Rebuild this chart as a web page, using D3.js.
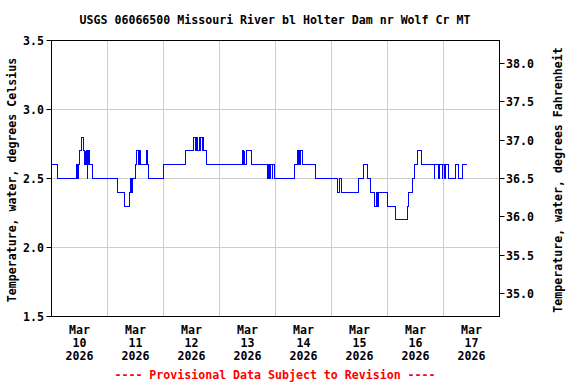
<!DOCTYPE html>
<html>
<head>
<meta charset="utf-8">
<script src="https://cdn.jsdelivr.net/npm/d3@7"></script>
<style>
  body { margin: 0; background: #fff; }
  text { font-family: "DejaVu Sans Mono", monospace; font-weight: bold; font-size: 11.6px; }
</style>
</head>
<body>
<script>
// hours since Mar 10 2026 00:00, value in deg C (step changes of the 15-min record)
var obsHours = [0, 2.75, 10.75, 11.25, 11.75, 12, 13, 13.75, 14.25, 14.5, 14.75, 15, 15.25, 15.5, 15.75, 16, 16.25,
  17.75, 28.25, 31.25, 33.25, 34, 34.25, 34.5, 36, 36.5, 37.25, 37.75, 38.25, 40.5, 41.25, 41.75,
  48, 57.5, 61, 61.75, 62.25, 62.5, 63.25, 63.75, 64, 64.5, 64.75, 65, 66.5,
  81.75, 82.25, 82.5, 82.75, 83.5, 85.75, 92.75, 93, 93.5, 93.75, 94.5, 94.75, 95.75,
  104.25, 105.5, 106, 106.25, 106.5, 106.75, 107.75, 113, 122.75, 123.5, 124.25,
  131.75, 133.75, 135.5, 136.75, 138.5, 139.25, 139.5, 140.25, 144, 147.5, 152.5, 153, 154.5,
  155.5, 157, 158.5, 164, 164.25, 166, 166.25, 167.5, 167.75, 168.5, 168.75, 170,
  173.25, 174.5, 176.25, 178];
var tempC = [2.6, 2.5, 2.6, 2.5, 2.6, 2.7, 2.8, 2.7, 2.6, 2.7, 2.6, 2.7, 2.5, 2.7, 2.6, 2.7, 2.6,
  2.5, 2.4, 2.3, 2.4, 2.5, 2.4, 2.5, 2.6, 2.7, 2.6, 2.7, 2.6, 2.7, 2.6, 2.5,
  2.6, 2.7, 2.8, 2.7, 2.8, 2.7, 2.8, 2.7, 2.8, 2.7, 2.8, 2.7, 2.6,
  2.7, 2.6, 2.7, 2.6, 2.7, 2.6, 2.5, 2.6, 2.5, 2.6, 2.5, 2.6, 2.5,
  2.6, 2.7, 2.6, 2.7, 2.6, 2.7, 2.6, 2.5, 2.4, 2.5, 2.4,
  2.5, 2.6, 2.5, 2.4, 2.3, 2.4, 2.3, 2.4, 2.3, 2.2, 2.3, 2.4, 2.5,
  2.6, 2.7, 2.6, 2.5, 2.6, 2.5, 2.6, 2.5, 2.6, 2.5, 2.6, 2.5,
  2.6, 2.5, 2.6, 2.6];
var dayLabels = ["10", "11", "12", "13", "14", "15", "16", "17"];
var cTicks = [1.5, 2.0, 2.5, 3.0, 3.5];
var fTicks = [35.0, 35.5, 36.0, 36.5, 37.0, 37.5, 38.0];

var title = "USGS 06066500 Missouri River bl Holter Dam nr Wolf Cr MT";
var width = 576, height = 384;
var pLeft = 51.5, pRight = 499.5, pTop = 40.5, pBottom = 316.5;

var start = new Date(2026, 2, 10);
var data = obsHours.map((h, i) => ({ t: new Date(start.getTime() + h * 3600e3), v: tempC[i] }));

var svg = d3.select("body").append("svg").attr("width", width).attr("height", height);

var x = d3.scaleTime().domain([start, new Date(2026, 2, 18)]).range([pLeft, pRight]);
var y = d3.scaleLinear().domain([1.5, 3.5]).range([pBottom, pTop]);
var yF = d3.scaleLinear().domain([1.5 * 1.8 + 32, 3.5 * 1.8 + 32]).range([pBottom, pTop]);

svg.append("text").attr("x", 275).attr("y", 24).attr("text-anchor", "middle").text(title);

// grid
var days = d3.timeDay.range(new Date(2026, 2, 11), new Date(2026, 2, 18));
svg.append("g").selectAll("line").data(days).enter().append("line")
  .attr("x1", d => Math.floor(x(d)) + 0.5).attr("x2", d => Math.floor(x(d)) + 0.5)
  .attr("y1", pTop).attr("y2", pBottom).attr("stroke", "#cccccc");
svg.append("g").selectAll("line").data([2.0, 2.5, 3.0]).enter().append("line")
  .attr("x1", pLeft).attr("x2", pRight)
  .attr("y1", d => Math.floor(y(d)) + 0.5).attr("y2", d => Math.floor(y(d)) + 0.5).attr("stroke", "#cccccc");

// series
var line = d3.line().x(d => Math.floor(x(d.t)) + 0.5).y(d => Math.floor(y(d.v)) + 0.5).curve(d3.curveStepAfter);
svg.append("path").datum(data).attr("d", line).attr("fill", "none")
  .attr("stroke", "#0000ff").attr("stroke-width", 1).attr("shape-rendering", "crispEdges");

// frame
svg.append("rect").attr("x", pLeft).attr("y", pTop).attr("width", pRight - pLeft).attr("height", pBottom - pTop)
  .attr("fill", "none").attr("stroke", "#000");

// left axis
var gl = svg.append("g");
cTicks.forEach(function (c) {
  var yy = Math.floor(y(c)) + 0.5;
  gl.append("line").attr("x1", pLeft - 5).attr("x2", pLeft).attr("y1", yy).attr("y2", yy).attr("stroke", "#000");
  gl.append("text").attr("x", 44).attr("y", yy + 4).attr("text-anchor", "end").text(c.toFixed(1));
});
svg.append("text").attr("transform", "translate(16,180) rotate(-90)")
  .attr("text-anchor", "middle").text("Temperature, water, degrees Celsius");

// right axis
var gr = svg.append("g");
fTicks.forEach(function (f) {
  var yy = Math.floor(yF(f)) + 0.5;
  gr.append("line").attr("x1", pRight).attr("x2", pRight + 5).attr("y1", yy).attr("y2", yy).attr("stroke", "#000");
  gr.append("text").attr("x", 506).attr("y", yy + 4).text(f.toFixed(1));
});
svg.append("text").attr("transform", "translate(562,180) rotate(-90)")
  .attr("text-anchor", "middle").text("Temperature, water, degrees Fahrenheit");

// x labels at noon
var gx = svg.append("g");
dayLabels.forEach(function (d, i) {
  var xx = x(new Date(2026, 2, 10 + i, 12));
  var t = gx.append("text").attr("text-anchor", "middle");
  t.append("tspan").attr("x", xx).attr("y", 334).text("Mar");
  t.append("tspan").attr("x", xx).attr("y", 347).text(d);
  t.append("tspan").attr("x", xx).attr("y", 360).text("2026");
});

svg.append("text").attr("x", 275).attr("y", 379).attr("text-anchor", "middle").attr("fill", "#ff0000")
  .text("---- Provisional Data Subject to Revision ----");
</script>
</body>
</html>
